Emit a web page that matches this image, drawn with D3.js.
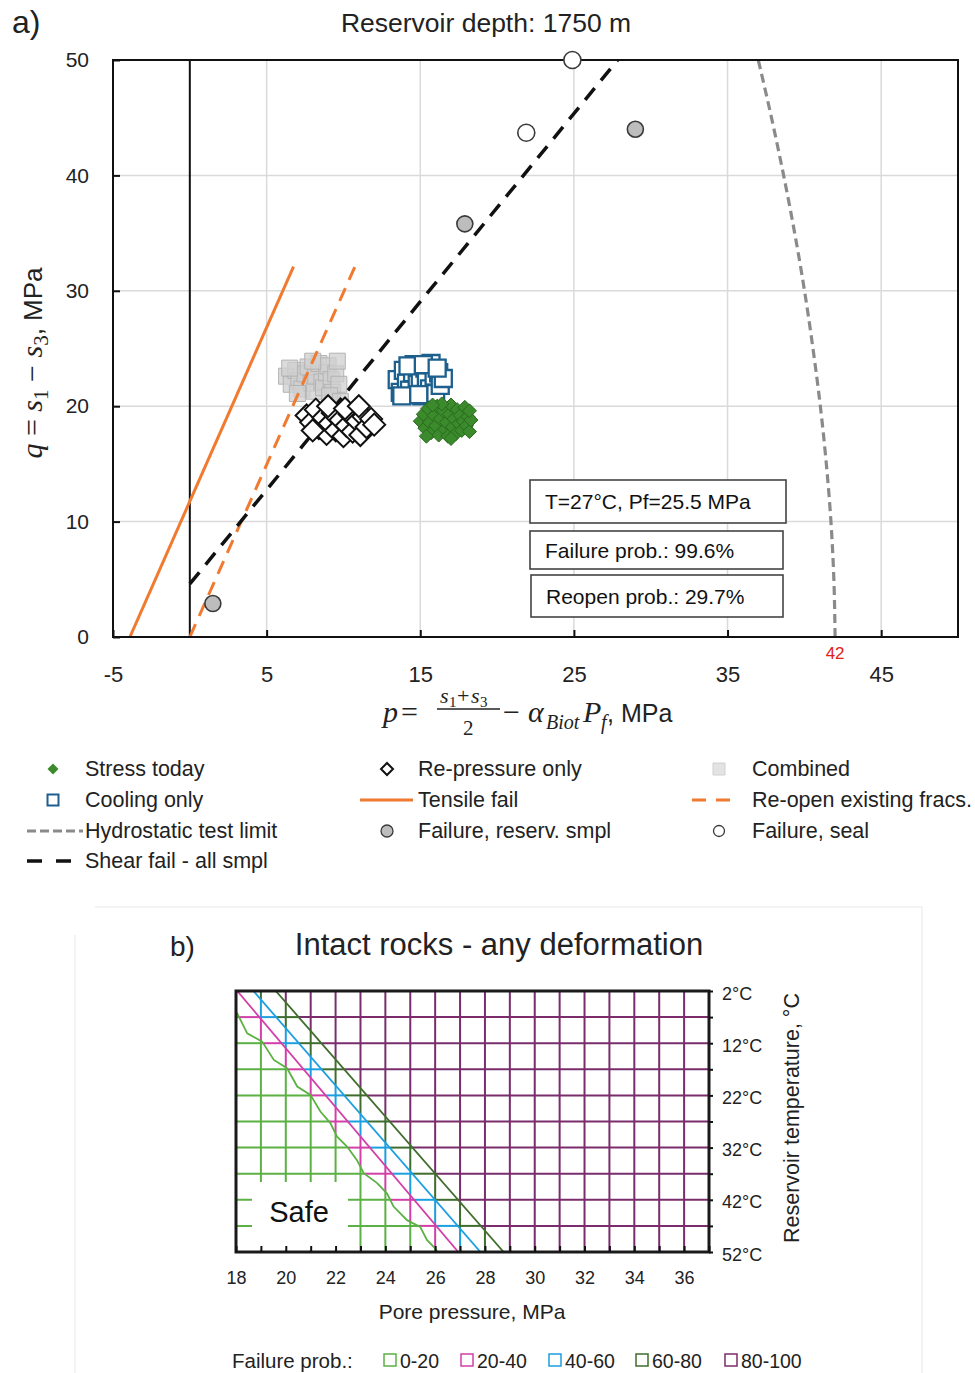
<!DOCTYPE html>
<html>
<head>
<meta charset="utf-8">
<script src="https://cdn.jsdelivr.net/npm/d3@7"></script>
<style>
  body { margin: 0; background: #fff; }
  svg { display: block; }
</style>
</head>
<body>
<svg id="fig" width="975" height="1373"></svg>
<script>
// ---------------- Panel a) : q-p stress diagram ----------------
const pTicks = [-5, 5, 15, 25, 35, 45];
const qTicks = [0, 10, 20, 30, 40, 50];

// cloud of stress states, [p, q] in MPa
const combined = [[6.3,22.6],[6.6,21.9],[6.9,23.1],[7.1,22.2],[7.3,21.5],[7.5,22.8],[7.7,23.4],[7.9,22.0],
  [8.1,21.3],[8.2,22.6],[8.4,23.7],[8.6,22.1],[8.7,21.6],[8.9,22.9],[9.0,23.5],[9.2,22.3],[9.3,21.2],
  [9.5,22.8],[9.6,23.9],[9.7,21.9],[7.0,21.1],[8.0,23.9],[9.1,20.9],[6.5,23.3],[9.8,20.4]];
const repressure = [[7.6,19.2],[7.9,18.6],[8.2,19.7],[8.4,18.1],[8.7,19.0],[8.9,17.6],[9.1,18.5],[9.3,19.4],
  [9.5,17.9],[9.8,18.8],[10.0,17.4],[10.2,18.3],[10.4,19.3],[10.6,17.8],[10.9,18.7],[11.1,17.5],[11.3,19.1],
  [11.5,18.2],[11.8,18.9],[9.0,20.0],[10.1,19.8],[8.0,17.9],[11.0,20.0],[12.0,18.4]];
const cooling = [[13.5,22.3],[13.7,21.2],[13.9,23.1],[14.1,22.0],[14.3,21.4],[14.5,22.9],[14.6,23.6],[14.8,21.9],
  [15.0,22.5],[15.1,20.9],[15.3,23.3],[15.4,22.1],[15.6,21.5],[15.7,23.7],[15.9,22.6],[16.0,21.1],[16.2,22.9],
  [16.3,21.8],[16.5,22.4],[14.2,23.5],[15.2,23.6],[13.8,20.9],[16.1,23.3],[14.9,21.0]];
const stressToday = [[15.0,18.7],[15.2,19.3],[15.3,18.1],[15.5,19.8],[15.6,18.6],[15.7,17.7],[15.9,19.2],[16.0,18.3],
  [16.1,20.0],[16.2,17.5],[16.3,18.9],[16.5,19.6],[16.6,18.0],[16.7,18.6],[16.8,17.4],[16.9,19.3],[17.0,20.1],
  [17.1,18.2],[17.2,18.9],[17.3,17.6],[17.4,19.7],[17.5,18.5],[17.6,19.2],[17.7,17.9],[17.8,18.7],[17.9,19.9],
  [18.0,18.3],[18.1,19.1],[18.2,17.8],[18.3,18.8],[15.4,17.4],[16.4,20.2],[17.0,17.2],[15.8,20.1],[18.2,19.6]];

// laboratory failure points
const failReservoir = [[1.5, 2.9], [17.9, 35.8], [29.0, 44.0]];
const failSeal = [[24.9, 50.0], [21.9, 43.7]];

// failure envelopes, [p, q]
const tensileFail = [[-3.9, 0], [6.75, 32.1]];
const reopenFracs = [[0, 0], [10.75, 32.1]];
const shearFail = [[0, 4.6], [27.85, 50]];
const hydroQ = [0, 5, 10, 15, 20, 25, 30, 35, 40, 45, 50];
const hydroP = [42.0, 41.92, 41.73, 41.43, 41.04, 40.56, 40.01, 39.37, 38.65, 37.86, 37.0];

const infoLines = ["T=27°C, Pf=25.5 MPa", "Failure prob.: 99.6%", "Reopen prob.: 29.7%"];

// ---------------- Panel b) : failure probability map ----------------
const poreTicks = d3.range(18, 37, 2);           // labelled pore pressures
const tempLabels = [2, 12, 22, 32, 42, 52];
const bandNames = ["0-20", "20-40", "40-60", "60-80", "80-100"];
const bandColors = ["#5bb143", "#d23fa8", "#1c9fe0", "#3f6d2d", "#7a2c6c"];
// upper limits of each probability band: temperature (°C) -> pore pressure (MPa)
const b20T = [2, 6.3, 10.1, 11.7, 15.2, 16.8, 20.3, 21.9, 25.1, 27.3, 29.9, 31.8, 34.4, 36.9, 38.8, 40.8, 43.3, 45.9, 47.2, 49.7, 51.0, 52];
const b20P = [17.3, 18.05, 18.45, 19.05, 19.52, 20.05, 20.46, 20.99, 21.39, 21.79, 22.06, 22.46, 22.86, 23.13, 23.67, 24.07, 24.33, 24.87, 25.40, 25.67, 25.94, 26.1];
const b40T = [2, 52], b40P = [18.05, 26.93];
const b60T = [2, 52], b60P = [18.7, 27.82];
const b80T = [2, 52], b80P = [19.6, 28.75];

// ==================================================================
const svg = d3.select("#fig");
const SANS = "'Liberation Sans', Arial, sans-serif";
const SERIF = "'Liberation Serif', 'Times New Roman', serif";
const ORANGE = "#f07b30";

// ---------- panel a ----------
const x = d3.scaleLinear([-5, 50], [113, 958]);
const y = d3.scaleLinear([0, 50], [637, 60]);
const A = svg.append("g");

A.append("text").attr("x", 12).attr("y", 33).text("a)")
  .style("font-family", SANS).style("font-size", "32px").attr("fill", "#222");
A.append("text").attr("x", 486).attr("y", 32).attr("text-anchor", "middle")
  .text("Reservoir depth: 1750 m").style("font-family", SANS).style("font-size", "26.5px").attr("fill", "#222");

// grid
A.append("g").selectAll("line").data(pTicks.slice(1)).join("line")
  .attr("x1", d => x(d)).attr("x2", d => x(d)).attr("y1", y(0)).attr("y2", y(50))
  .attr("stroke", "#dadada").attr("stroke-width", 1.5);
A.append("g").selectAll("line").data(qTicks.slice(1, -1)).join("line")
  .attr("y1", d => y(d)).attr("y2", d => y(d)).attr("x1", x(-5)).attr("x2", x(50))
  .attr("stroke", "#dadada").attr("stroke-width", 1.5);

// p = 0 reference
A.append("line").attr("x1", x(0)).attr("x2", x(0)).attr("y1", y(0)).attr("y2", y(50))
  .attr("stroke", "#111").attr("stroke-width", 2);

const clipA = svg.append("clipPath").attr("id", "clipA");
clipA.append("rect").attr("x", x(-5)).attr("y", y(50)).attr("width", x(50) - x(-5)).attr("height", y(0) - y(50));
const plotA = A.append("g").attr("clip-path", "url(#clipA)");

const line = d3.line().x(d => x(d[0])).y(d => y(d[1]));

// combined squares sit under the envelopes
const sq = s => `M${-s},${-s}H${s}V${s}H${-s}Z`;
const dia = s => `M0,${-s}L${s},0L0,${s}L${-s},0Z`;
plotA.append("g").selectAll("path").data(combined).join("path")
  .attr("transform", d => `translate(${x(d[0])},${y(d[1])})`).attr("d", sq(8))
  .attr("fill", "#cfcfcf").attr("fill-opacity", 0.75).attr("stroke", "#b3b3b3").attr("stroke-width", 1);

// hydrostatic test limit
plotA.append("path").datum(hydroQ.map((q, i) => [hydroP[i], q]))
  .attr("d", d3.line().x(d => x(d[0])).y(d => y(d[1])).curve(d3.curveMonotoneY))
  .attr("fill", "none").attr("stroke", "#8a8a8a").attr("stroke-width", 3.2).attr("stroke-dasharray", "9,5");
plotA.append("path").datum(tensileFail).attr("d", line)
  .attr("fill", "none").attr("stroke", ORANGE).attr("stroke-width", 3);
plotA.append("path").datum(reopenFracs).attr("d", line)
  .attr("fill", "none").attr("stroke", ORANGE).attr("stroke-width", 3).attr("stroke-dasharray", "14,9");
plotA.append("path").datum(shearFail).attr("d", line)
  .attr("fill", "none").attr("stroke", "#111").attr("stroke-width", 3.5).attr("stroke-dasharray", "15,10");

// stress clouds
plotA.append("g").selectAll("path").data(repressure).join("path")
  .attr("transform", d => `translate(${x(d[0])},${y(d[1])})`).attr("d", dia(11))
  .attr("fill", "#fff").attr("stroke", "#111").attr("stroke-width", 2);
plotA.append("g").selectAll("path").data(cooling).join("path")
  .attr("transform", d => `translate(${x(d[0])},${y(d[1])})`).attr("d", sq(8.5))
  .attr("fill", "#fff").attr("stroke", "#1d5f8d").attr("stroke-width", 2.3);
plotA.append("g").selectAll("path").data(stressToday).join("path")
  .attr("transform", d => `translate(${x(d[0])},${y(d[1])})`).attr("d", dia(7))
  .attr("fill", "#3b8a2c").attr("stroke", "#2a6a1e").attr("stroke-width", 1);

// lab failure points
A.append("g").selectAll("circle").data(failReservoir).join("circle")
  .attr("cx", d => x(d[0])).attr("cy", d => y(d[1])).attr("r", 8)
  .attr("fill", "#bdbdbd").attr("stroke", "#3a3a3a").attr("stroke-width", 1.6);

// frame
A.append("rect").attr("x", x(-5)).attr("y", y(50)).attr("width", x(50) - x(-5)).attr("height", y(0) - y(50))
  .attr("fill", "none").attr("stroke", "#111").attr("stroke-width", 2);

A.append("g").selectAll("circle").data(failSeal).join("circle")
  .attr("cx", d => x(d[0])).attr("cy", d => y(d[1])).attr("r", 8.5)
  .attr("fill", "#fff").attr("stroke", "#3a3a3a").attr("stroke-width", 1.6);

// axes
const gx = A.append("g").attr("transform", `translate(0,${y(0)})`)
  .call(d3.axisBottom(x).tickValues(pTicks).tickFormat(d => String(d)).tickSizeInner(-7).tickSizeOuter(0).tickPadding(29));
gx.select(".domain").remove();
gx.selectAll("line").attr("stroke", "#111").attr("stroke-width", 2);
gx.selectAll("text").style("font-family", SANS).style("font-size", "22px").attr("fill", "#222");

const gy = A.append("g").attr("transform", `translate(${x(-5)},0)`)
  .call(d3.axisLeft(y).tickValues(qTicks).tickSizeInner(-7).tickSizeOuter(0).tickPadding(24));
gy.select(".domain").remove();
gy.selectAll("line").attr("stroke", "#111").attr("stroke-width", 2);
gy.selectAll("text").style("font-family", SANS).style("font-size", "21px").attr("fill", "#222");

// hydrostatic limit value
A.append("text").attr("x", x(hydroP[0])).attr("y", 659).attr("text-anchor", "middle")
  .text(String(hydroP[0])).style("font-family", SANS).style("font-size", "17px").attr("fill", "#e0201a");

// y axis title: q = s1 - s3, MPa
const yt = A.append("text").attr("transform", "translate(42,363) rotate(-90)").attr("text-anchor", "middle")
  .attr("fill", "#222").style("font-size", "30px");
yt.append("tspan").style("font-family", SERIF).style("font-style", "italic").text("q");
yt.append("tspan").style("font-family", SERIF).text(" = ");
yt.append("tspan").style("font-family", SERIF).style("font-style", "italic").text("s");
yt.append("tspan").style("font-family", SERIF).style("font-size", "21px").attr("dy", 6).text("1");
yt.append("tspan").style("font-family", SERIF).attr("dy", -6).text(" − ");
yt.append("tspan").style("font-family", SERIF).style("font-style", "italic").text("s");
yt.append("tspan").style("font-family", SERIF).style("font-size", "21px").attr("dy", 6).text("3");
yt.append("tspan").style("font-family", SANS).style("font-size", "26px").attr("dy", -6).text(", MPa");

// x axis title: p = (s1+s3)/2 - alpha_Biot P_f, MPa
const xt = A.append("g").attr("fill", "#222");
const mt = (px, py, str, size, italic, fam) => xt.append("text").attr("x", px).attr("y", py).text(str)
  .style("font-family", fam || SERIF).style("font-size", size + "px").style("font-style", italic ? "italic" : "normal");
mt(383, 722, "p", 30, true);
mt(401, 722, "=", 30, false);
mt(440, 703, "s", 22, true); mt(449, 707, "1", 15, false);
mt(457, 703, "+", 22, false);
mt(471, 703, "s", 22, true); mt(480, 707, "3", 15, false);
xt.append("line").attr("x1", 437).attr("x2", 500).attr("y1", 709).attr("y2", 709).attr("stroke", "#222").attr("stroke-width", 1.5);
mt(463, 735, "2", 21, false);
mt(503, 722, "−", 30, false);
mt(528, 722, "α", 30, true);
mt(546, 729, "Biot", 20, true);
mt(583, 722, "P", 30, true);
mt(601, 729, "f", 20, true);
mt(607, 722, ", MPa", 25, false, SANS);

// info boxes
const boxes = [{y: 480, h: 43, w: 256, x: 530}, {y: 531, h: 38, w: 253, x: 530}, {y: 575, h: 42, w: 252, x: 531}];
const ib = A.append("g").selectAll("g").data(infoLines).join("g");
ib.append("rect").attr("x", (d, i) => boxes[i].x).attr("y", (d, i) => boxes[i].y)
  .attr("width", (d, i) => boxes[i].w).attr("height", (d, i) => boxes[i].h)
  .attr("fill", "#fff").attr("stroke", "#444").attr("stroke-width", 1.6);
ib.append("text").attr("x", (d, i) => boxes[i].x + 15).attr("y", (d, i) => boxes[i].y + boxes[i].h / 2 + 7.5)
  .text(d => d).style("font-family", SANS).style("font-size", "21px").attr("fill", "#111");

// legend
const legend = A.append("g");
const rowY = [769, 800, 831, 861];
const colX = [53, 387, 719];
const legText = (c, r, s) => legend.append("text").attr("x", [85, 418, 752][c]).attr("y", rowY[r] + 7)
  .text(s).style("font-family", SANS).style("font-size", "21.5px").attr("fill", "#222");
legend.append("path").attr("transform", `translate(${colX[0]},${rowY[0]})`).attr("d", dia(5.5)).attr("fill", "#3b8a2c");
legText(0, 0, "Stress today");
legend.append("path").attr("transform", `translate(${colX[1]},${rowY[0]})`).attr("d", dia(6)).attr("fill", "#fff").attr("stroke", "#111").attr("stroke-width", 2);
legText(1, 0, "Re-pressure only");
legend.append("path").attr("transform", `translate(${colX[2]},${rowY[0]})`).attr("d", sq(6)).attr("fill", "#e3e3e3").attr("stroke", "#d0d0d0");
legText(2, 0, "Combined");
legend.append("path").attr("transform", `translate(${colX[0]},${rowY[1]})`).attr("d", sq(5.5)).attr("fill", "#fff").attr("stroke", "#1d5f8d").attr("stroke-width", 2);
legText(0, 1, "Cooling only");
legend.append("line").attr("x1", 360).attr("x2", 413).attr("y1", rowY[1]).attr("y2", rowY[1]).attr("stroke", ORANGE).attr("stroke-width", 3);
legText(1, 1, "Tensile fail");
legend.append("line").attr("x1", 692).attr("x2", 738).attr("y1", rowY[1]).attr("y2", rowY[1]).attr("stroke", ORANGE).attr("stroke-width", 3).attr("stroke-dasharray", "14,10");
legText(2, 1, "Re-open existing fracs.");
legend.append("line").attr("x1", 27).attr("x2", 83).attr("y1", rowY[2]).attr("y2", rowY[2]).attr("stroke", "#8a8a8a").attr("stroke-width", 3).attr("stroke-dasharray", "9,4");
legText(0, 2, "Hydrostatic test limit");
legend.append("circle").attr("cx", colX[1]).attr("cy", rowY[2]).attr("r", 6).attr("fill", "#bdbdbd").attr("stroke", "#3a3a3a").attr("stroke-width", 1.3);
legText(1, 2, "Failure, reserv. smpl");
legend.append("circle").attr("cx", colX[2]).attr("cy", rowY[2]).attr("r", 5.5).attr("fill", "#fff").attr("stroke", "#3a3a3a").attr("stroke-width", 1.3);
legText(2, 2, "Failure, seal");
legend.append("line").attr("x1", 27).attr("x2", 71).attr("y1", rowY[3]).attr("y2", rowY[3]).attr("stroke", "#111").attr("stroke-width", 3.5).attr("stroke-dasharray", "15,14");
legText(0, 3, "Shear fail - all smpl");

// ---------- panel b ----------
const B = svg.append("g");
B.append("path").attr("d", "M95,907H922V1373M75,935V1373").attr("fill", "none").attr("stroke", "#f0f0f0").attr("stroke-width", 1.5);

const xp = d3.scaleLinear([18, 37], [236, 709]);
const yt2 = d3.scaleLinear([2, 52], [991, 1252]);

B.append("text").attr("x", 170).attr("y", 956).text("b)")
  .style("font-family", SANS).style("font-size", "28px").attr("fill", "#222");
B.append("text").attr("x", 499).attr("y", 955).attr("text-anchor", "middle").text("Intact rocks - any deformation")
  .style("font-family", SANS).style("font-size", "31px").attr("fill", "#222");

const bounds = [[b20T, b20P], [b40T, b40P], [b60T, b60P], [b80T, b80P]];
const boundAt = (b, T) => {
  const ts = b[0], ps = b[1];
  let i = d3.bisectRight(ts, T) - 1;
  i = Math.max(0, Math.min(ts.length - 2, i));
  const f = (T - ts[i]) / (ts[i + 1] - ts[i]);
  return ps[i] + f * (ps[i + 1] - ps[i]);
};
const bandAt = (P, T) => bounds.reduce((n, b) => n + (P > boundAt(b, T) ? 1 : 0), 0);

// split a grid line into pieces coloured by probability band
function gridRuns(p0, t0, p1, t1) {
  const N = 800, runs = [];
  let cur = null;
  for (let i = 0; i < N; i++) {
    const f = (i + 0.5) / N;
    const band = bandAt(p0 + (p1 - p0) * f, t0 + (t1 - t0) * f);
    if (!cur || cur.band !== band) { cur = {band, f0: i / N, f1: (i + 1) / N}; runs.push(cur); }
    else cur.f1 = (i + 1) / N;
  }
  return runs.map(r => ({band: r.band, p0: p0 + (p1 - p0) * r.f0, t0: t0 + (t1 - t0) * r.f0,
                         p1: p0 + (p1 - p0) * r.f1, t1: t0 + (t1 - t0) * r.f1}));
}
const gridPres = d3.range(18, 38, 1);
const gridTemps = d3.range(2, 53, 5);
let segs = [];
gridPres.forEach(P => { segs = segs.concat(gridRuns(P, 2, P, 52)); });
gridTemps.forEach(T => { segs = segs.concat(gridRuns(18, T, 37, T)); });
B.append("g").selectAll("line").data(segs).join("line")
  .attr("x1", d => xp(d.p0)).attr("y1", d => yt2(d.t0)).attr("x2", d => xp(d.p1)).attr("y2", d => yt2(d.t1))
  .attr("stroke", d => bandColors[d.band]).attr("stroke-width", 2);

const clipB = svg.append("clipPath").attr("id", "clipB");
clipB.append("rect").attr("x", xp(18)).attr("y", yt2(2)).attr("width", xp(37) - xp(18)).attr("height", yt2(52) - yt2(2));
B.append("g").attr("clip-path", "url(#clipB)").selectAll("path").data(bounds).join("path")
  .attr("d", b => d3.line()(b[0].map((t, i) => [xp(b[1][i]), yt2(t)])))
  .attr("fill", "none").attr("stroke", (b, i) => bandColors[i]).attr("stroke-width", 1.8);

// "Safe" label over the low-probability corner
B.append("rect").attr("x", 252).attr("y", 1182).attr("width", 96).attr("height", 68).attr("fill", "#fff");
B.append("text").attr("x", 299).attr("y", 1222).attr("text-anchor", "middle").text("Safe")
  .style("font-family", SANS).style("font-size", "29px").attr("fill", "#111");

B.append("rect").attr("x", xp(18)).attr("y", yt2(2)).attr("width", xp(37) - xp(18)).attr("height", yt2(52) - yt2(2))
  .attr("fill", "none").attr("stroke", "#1a1a1a").attr("stroke-width", 3);

const bx = B.append("g").attr("transform", `translate(0,${yt2(52)})`)
  .call(d3.axisBottom(xp).tickValues(d3.range(18, 38, 1)).tickFormat(d => poreTicks.includes(d) ? d : "")
    .tickSizeInner(-6).tickSizeOuter(0).tickPadding(19));
bx.select(".domain").remove();
bx.selectAll("line").attr("stroke", "#111").attr("stroke-width", 2);
bx.selectAll("text").style("font-family", SANS).style("font-size", "18px").attr("fill", "#222");

const by = B.append("g").attr("transform", `translate(${xp(37)},0)`)
  .call(d3.axisRight(yt2).tickValues(gridTemps).tickFormat(d => tempLabels.includes(d) ? d + "°C" : "")
    .tickSizeInner(4).tickSizeOuter(0).tickPadding(9));
by.select(".domain").remove();
by.selectAll("line").attr("stroke", "#111").attr("stroke-width", 2);
by.selectAll("text").style("font-family", SANS).style("font-size", "18px").attr("fill", "#222").attr("dy", "0.45em");

B.append("text").attr("x", 472).attr("y", 1319).attr("text-anchor", "middle").text("Pore pressure, MPa")
  .style("font-family", SANS).style("font-size", "21px").attr("fill", "#222");
B.append("text").attr("transform", "translate(799,1118) rotate(-90)").attr("text-anchor", "middle")
  .text("Reservoir temperature, °C").style("font-family", SANS).style("font-size", "21.5px").attr("fill", "#222");

// band legend
const bl = B.append("g");
bl.append("text").attr("x", 232).attr("y", 1368).text("Failure prob.:")
  .style("font-family", SANS).style("font-size", "20.5px").attr("fill", "#222");
const legX = [384, 461, 549, 636, 725];
const li = bl.selectAll("g.item").data(bandNames).join("g").attr("class", "item");
li.append("rect").attr("x", (d, i) => legX[i]).attr("y", 1354).attr("width", 12).attr("height", 12)
  .attr("fill", "#fff").attr("stroke", (d, i) => bandColors[i]).attr("stroke-width", 1.5);
li.append("text").attr("x", (d, i) => legX[i] + 16).attr("y", 1368).text(d => d)
  .style("font-family", SANS).style("font-size", "19.5px").attr("fill", "#222");
</script>
</body>
</html>
